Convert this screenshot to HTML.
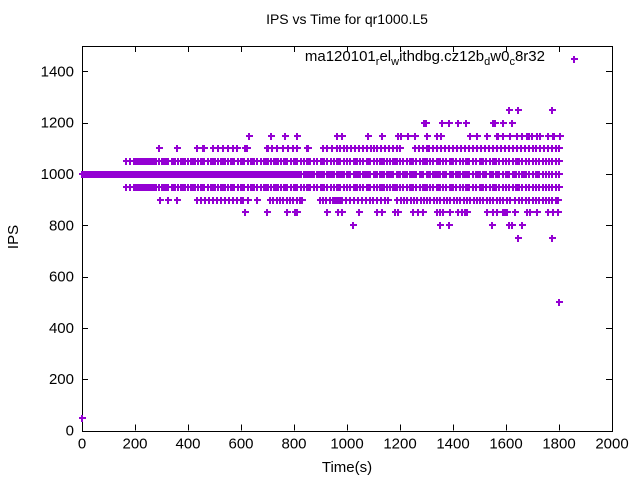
<!DOCTYPE html>
<html><head><meta charset="utf-8"><style>
html,body{margin:0;padding:0;background:#fff;}
svg{display:block;font-family:"Liberation Sans",sans-serif;}
</style></head><body>
<svg id="chart" width="640" height="480" viewBox="0 0 640 480" xmlns="http://www.w3.org/2000/svg">
<rect x="0" y="0" width="640" height="480" fill="#fff"/>
<text x="347" y="24" font-size="14" text-anchor="middle">IPS vs Time for qr1000.L5</text>
<text x="18" y="237" font-size="15" text-anchor="middle" transform="rotate(-90 18 237)">IPS</text>
<text x="347" y="472" font-size="15" text-anchor="middle">Time(s)</text>
<g id="axes" shape-rendering="crispEdges"></g>
<g id="marks" fill="#9400d3" shape-rendering="crispEdges"></g>
<text x="545" y="61" font-size="15" text-anchor="end">ma120101<tspan dy="4" font-size="11">r</tspan><tspan dy="-4">el</tspan><tspan dy="4" font-size="11">w</tspan><tspan dy="-4">ithdbg.cz12b</tspan><tspan dy="4" font-size="11">d</tspan><tspan dy="-4">w0</tspan><tspan dy="4" font-size="11">c</tspan><tspan dy="-4">8r32</tspan></text>
</svg>
<script>
const xTicks=[0,200,400,600,800,1000,1200,1400,1600,1800,2000];
const yTicks=[0,200,400,600,800,1000,1200,1400];
const levels=[1250,1200,1150,1100,1050,1000,950,900,850,800,750];
const t1250=[1611,1645,1774];
const t1200=[1290,1298,1358,1385,1419,1449,1551,1560,1589,1623];
const t1150=[630,713,766,811,962,981,1079,1132,1192,1204,1230,1257,1302,1340,1355,1464,1491,1528,1566,1570,1589,1615,1642,1660,1679,1687,1698,1717,1728,1758,1777,1781,1804];
const t1100=[291,358,434,457,460,494,513,532,551,570,585,615,623,698,702,717,736,758,777,796,811,849,853,909,925,943,962,975,990,1000,1015,1030,1045,1060,1075,1090,1100,1115,1130,1145,1160,1175,1190,1200,1255,1270,1285,1300,1310,1325,1340,1355,1370,1385,1400,1415,1430,1445,1460,1475,1490,1505,1520,1535,1550,1565,1580,1595,1610,1625,1640,1655,1670,1685,1700,1715,1730,1745,1760,1775,1790,1800];
const t1050=[165,180,195,205,211,215,222,228,234,240,246,252,258,265,272,278,290,300,306,312,318,325,338,344,350,362,375,381,388,400,412,418,425,438,450,456,462,475,488,494,500,512,525,531,538,550,562,568,575,588,600,606,612,625,638,644,650,662,675,688,694,700,712,725,731,738,750,762,768,775,788,800,806,812,825,838,850,856,862,875,888,900,906,912,925,938,950,962,968,975,988,1000,1012,1025,1031,1038,1050,1062,1075,1081,1088,1100,1112,1125,1131,1138,1150,1162,1175,1181,1188,1200,1212,1225,1238,1244,1250,1262,1275,1288,1294,1300,1312,1325,1338,1344,1350,1362,1375,1388,1394,1400,1412,1425,1438,1450,1456,1462,1475,1488,1500,1506,1512,1525,1538,1550,1556,1562,1575,1588,1600,1612,1625,1638,1644,1650,1662,1675,1688,1700,1712,1725,1738,1750,1762,1775,1788,1800];
const t1000=[0,4,8,12,16,20,24,28,32,36,40,44,48,52,56,60,64,68,72,76,80,84,88,92,96,100,104,108,112,116,120,124,128,132,136,140,144,148,152,156,160,164,168,172,176,182,188,194,200,206,212,218,225,231,238,244,250,256,262,268,275,281,288,294,300,306,312,318,325,331,338,344,350,356,362,368,375,381,388,394,400,406,412,418,425,431,438,444,450,456,462,468,475,481,488,494,500,506,512,518,525,531,538,544,550,556,562,568,575,581,588,594,600,606,612,618,625,631,638,644,650,656,662,668,675,681,688,694,700,706,712,718,725,731,738,744,750,756,762,768,775,781,788,794,800,806,812,818,825,838,844,850,856,862,868,875,888,894,900,906,912,925,931,938,944,950,962,968,975,981,988,1000,1006,1012,1025,1031,1038,1044,1050,1062,1068,1075,1081,1088,1100,1106,1112,1125,1131,1138,1150,1156,1162,1168,1175,1188,1194,1200,1212,1218,1225,1238,1244,1250,1256,1262,1275,1281,1288,1300,1306,1312,1325,1331,1338,1344,1350,1362,1368,1375,1388,1394,1400,1412,1418,1425,1438,1444,1450,1456,1462,1475,1488,1494,1500,1512,1518,1525,1538,1544,1550,1562,1568,1575,1588,1600,1606,1612,1625,1631,1638,1650,1662,1668,1675,1688,1700,1712,1718,1725,1738,1750,1762,1775,1788,1800];
const t950=[165,180,195,205,211,215,222,228,234,240,246,252,258,265,272,278,290,300,306,312,318,325,338,344,350,362,375,381,388,400,412,418,425,438,450,456,462,475,488,494,500,512,525,531,538,550,562,568,575,588,600,606,612,625,638,644,650,662,675,688,694,700,712,725,731,738,750,762,768,775,788,800,806,812,825,838,850,856,862,875,888,900,906,912,925,938,950,962,968,975,988,1000,1012,1025,1031,1038,1050,1062,1075,1081,1088,1100,1112,1125,1131,1138,1150,1162,1175,1181,1188,1200,1212,1225,1238,1244,1250,1262,1275,1288,1294,1300,1312,1325,1338,1344,1350,1362,1375,1388,1394,1400,1412,1425,1438,1450,1456,1462,1475,1488,1500,1506,1512,1525,1538,1550,1556,1562,1575,1588,1600,1612,1625,1638,1644,1650,1662,1675,1688,1700,1712,1725,1738,1750,1762,1775,1788,1800];
const t900=[294,325,358,434,450,465,480,495,510,525,540,555,570,585,600,608,626,660,709,722,735,748,760,772,785,798,810,822,830,898,910,922,935,948,960,974,936,950,965,980,995,1010,1025,1040,1055,1070,1085,1098,1113,1128,1142,1155,1189,1202,1215,1228,1240,1252,1265,1278,1290,1302,1315,1328,1340,1352,1365,1378,1390,1402,1415,1428,1440,1452,1465,1478,1490,1502,1515,1528,1540,1552,1565,1578,1590,1602,1615,1634,1648,1662,1675,1688,1700,1712,1725,1738,1750,1762,1775,1788,1796];
const t850=[615,698,774,804,811,925,966,981,1045,1113,1132,1181,1192,1249,1268,1287,1340,1351,1362,1389,1419,1434,1445,1453,1528,1551,1566,1589,1596,1604,1634,1679,1691,1717,1758,1777,1796];
const t800=[1023,1351,1385,1547,1611,1623,1660];
const t750=[1645,1774];
const outX=[0,1800,1857];
const outY=[50,500,1450];
const series=[t1250,t1200,t1150,t1100,t1050,t1000,t950,t900,t850,t800,t750];

const X0=82,X1=612,Y0=430.5,Y1=45.75;
function sx(v){return X0+(v-0)/(2000-0)*(X1-X0);}
function sy(v){return Y0-(v-0)/(1500-0)*(Y0-Y1);}
const NS="http://www.w3.org/2000/svg";
const axes=document.getElementById('axes');
const marks=document.getElementById('marks');
function mk(tag,attrs,parent){const e=document.createElementNS(NS,tag);for(const k in attrs)e.setAttribute(k,attrs[k]);parent.appendChild(e);return e;}

const frame=mk('rect',{x:X0+0.5,y:Math.round(Y1)+0.5,width:X1-X0,height:Math.round(Y0)-Math.round(Y1),fill:'none',stroke:'#000','stroke-width':1},axes);


xTicks.forEach(function(v){
  const x=Math.round(sx(v))+0.5;
  const t=mk('path',{d:'M'+x+' '+Y0+'v-6M'+x+' '+Y1+'v6',stroke:'#000','stroke-width':1},axes);
  
  
  const l=mk('text',{x:sx(v),y:Y0+18,'font-size':15,'text-anchor':'middle'},axes);
  l.textContent=v;
  
  
});
yTicks.forEach(function(v){
  const y=Math.round(sy(v))+0.5;
  const t=mk('path',{d:'M'+X0+' '+y+'h6M'+X1+' '+y+'h-6',stroke:'#000','stroke-width':1},axes);
  
  
  const l=mk('text',{x:X0-8,y:sy(v)+5,'font-size':15,'text-anchor':'end'},axes);
  l.textContent=v;
  
  
});
function plus(xv,yv){
  const x=Math.round(sx(xv)),y=Math.round(sy(yv));
  const p=mk('path',{d:'M'+(x-3)+' '+(y-1)+'h7v2h-7zM'+(x-1)+' '+(y-3)+'h2v7h-2z'},marks);
  
  
}
series.forEach(function(xs,i){xs.forEach(function(xv){plus(xv,levels[i]);});});
outX.forEach(function(xv,i){plus(xv,outY[i]);});
</script>
</body></html>
